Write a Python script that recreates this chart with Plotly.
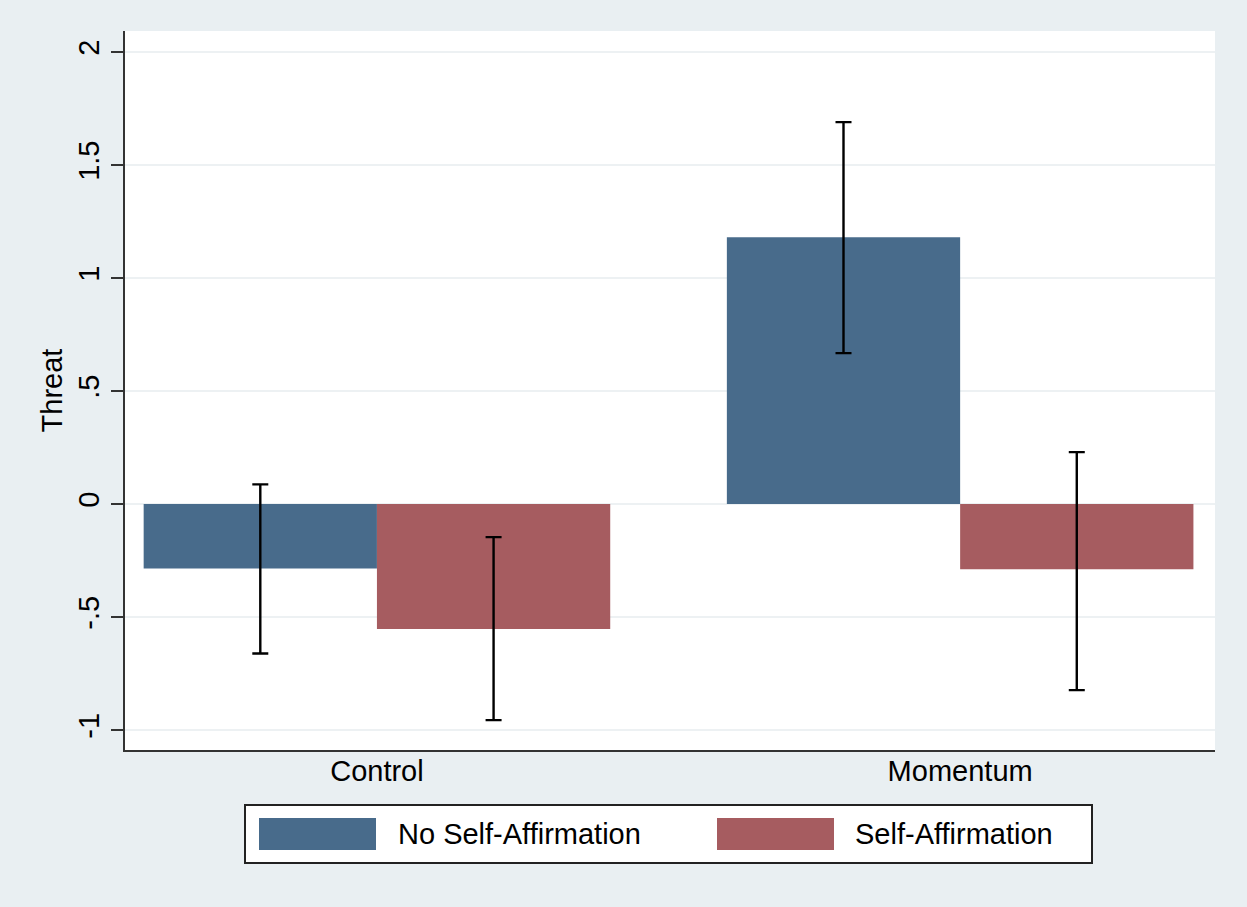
import plotly.graph_objects as go

# Data
conditions = ["Control", "Momentum"]
series_names = ["No Self-Affirmation", "Self-Affirmation"]
means_no_affirm = [-0.285, 1.181]
means_affirm = [-0.553, -0.288]
ci_low_no_affirm = [-0.661, 0.668]
ci_high_no_affirm = [0.087, 1.690]
ci_low_affirm = [-0.956, -0.823]
ci_high_affirm = [-0.146, 0.230]
y_tickvals = [-1, -0.5, 0, 0.5, 1, 1.5, 2]
y_ticktext = ["-1", "-.5", "0", ".5", "1", "1.5", "2"]

colors = ["#486b8b", "#a65c60"]
bg = "#e9eff2"
font_family = "Liberation Sans, Arial, Helvetica, sans-serif"

W, H = 1247, 907
ML, MR, MT, MB = 125, 32, 31, 157
PW, PH = W - ML - MR, H - MT - MB


def px_x(x):
    return (x - ML) / PW


def px_y(y):
    return (H - MB - y) / PH


fig = go.Figure()
for name, means, lo, hi, col in [
    (series_names[0], means_no_affirm, ci_low_no_affirm, ci_high_no_affirm, colors[0]),
    (series_names[1], means_affirm, ci_low_affirm, ci_high_affirm, colors[1]),
]:
    fig.add_trace(go.Bar(
        x=conditions, y=means, name=name,
        marker=dict(color=col, line=dict(width=0)),
        error_y=dict(
            type="data", symmetric=False,
            array=[h - m for h, m in zip(hi, means)],
            arrayminus=[m - l for m, l in zip(means, lo)],
            color="black", thickness=2.4, width=8,
        ),
        showlegend=False,
    ))

# Legend box drawn in paper space
shapes = [
    dict(type="rect", xref="paper", yref="paper",
         x0=px_x(245), x1=px_x(1092), y0=px_y(863), y1=px_y(805),
         fillcolor="white", line=dict(color="#222", width=2), layer="above"),
]
annotations = []
for (sx0, sx1, tx), name, col in zip([(259, 376, 396), (717, 834, 853)], series_names, colors):
    shapes.append(dict(type="rect", xref="paper", yref="paper",
                       x0=px_x(sx0), x1=px_x(sx1), y0=px_y(850), y1=px_y(818),
                       fillcolor=col, line=dict(width=0), layer="above"))
    annotations.append(dict(xref="paper", yref="paper", x=px_x(tx), y=px_y(834),
                            text=name, showarrow=False, xanchor="left", yanchor="middle",
                            font=dict(size=29, color="black", family=font_family)))

fig.update_layout(
    width=W, height=H,
    margin=dict(l=ML, r=MR, t=MT, b=MB),
    paper_bgcolor=bg, plot_bgcolor="white",
    barmode="group", bargap=0.2, bargroupgap=0,
    font=dict(family=font_family, size=29, color="black"),
    shapes=shapes, annotations=annotations,
    showlegend=False,
)
fig.update_xaxes(
    range=[-0.432, 1.437], showgrid=False, ticks="",
    showline=True, linecolor="#333", linewidth=2,
    tickfont=dict(size=29), zeroline=False, ticklabelstandoff=-6,
)
fig.update_yaxes(
    range=[-1.088, 2.093], tickvals=y_tickvals, ticktext=y_ticktext,
    tickangle=-90, ticks="outside", ticklen=12, tickwidth=2, tickcolor="#333",
    showline=True, linecolor="#333", linewidth=2,
    showgrid=True, gridcolor="#edf1f3", gridwidth=1.5, zeroline=False,
    tickfont=dict(size=29),
    title=dict(text="Threat", font=dict(size=29), standoff=2),
)

fig.write_html("out.html")
